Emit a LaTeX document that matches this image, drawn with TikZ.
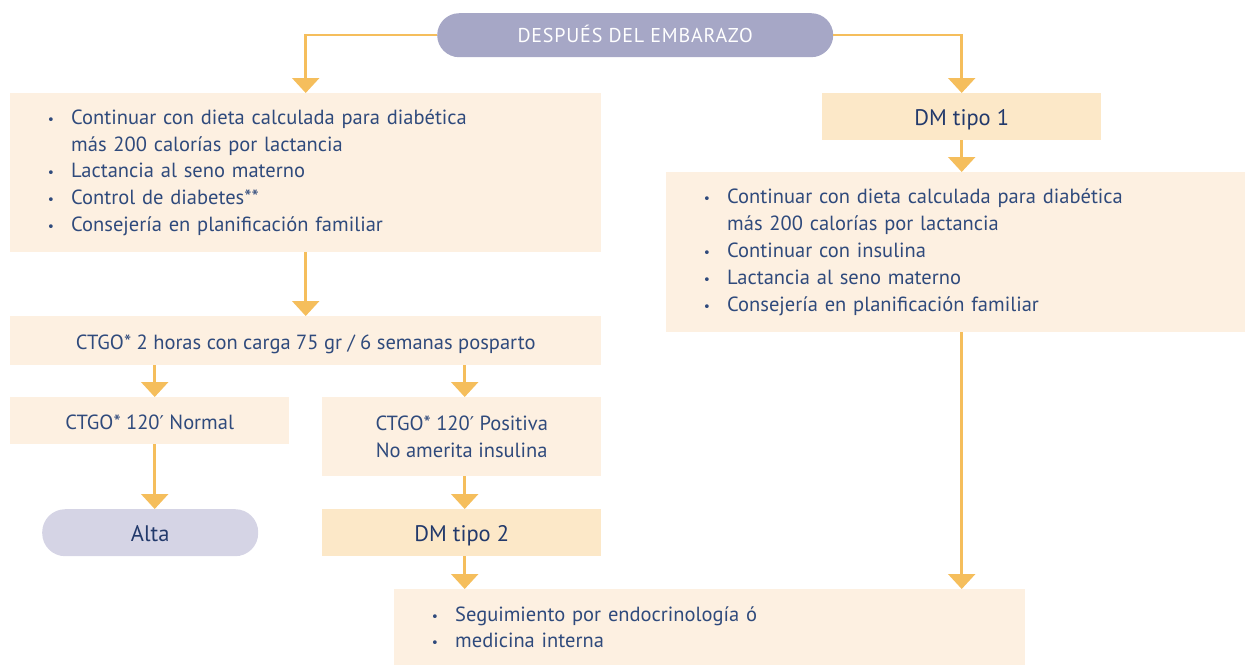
\documentclass[tikz,border=0pt]{standalone}
\usepackage{fontspec}
\setmainfont{PT Sans}
\newfontfamily\symfont{DejaVu Sans}
\usetikzlibrary{arrows.meta}
\definecolor{txt}{HTML}{2F4A7C}
\definecolor{txtdark}{HTML}{22396B}
\definecolor{peach}{HTML}{FDF0E1}
\definecolor{dmfill}{HTML}{FCE8C8}
\definecolor{topfill}{HTML}{A6A7C6}
\definecolor{altafill}{HTML}{D5D4E5}
\definecolor{arrowc}{HTML}{F5BE5C}
\newcommand{\bl}[1]{\makebox[23pt][l]{\hspace*{-1pt}{\symfont\fontsize{13}{13}\selectfont •}}#1}
\newcommand{\fs}{\fontsize{20.5}{26.8}\selectfont}
\newcommand{\fsbig}{\fontsize{22.5}{26.8}\selectfont}
\newcommand{\prm}{{\symfont\fontsize{19}{19}\selectfont ′}}
\begin{document}
\begin{tikzpicture}[x=1pt,y=-1pt,
  box/.style={fill=peach, inner sep=0pt, anchor=north west, font=\fs, text=txt, align=center},
  onebox/.style={box, text height=19pt, text depth=2pt},
  listbox/.style={box, align=left, inner xsep=38pt},
  dmbox/.style={onebox, fill=dmfill, text=txtdark, font=\fsbig},
  arr/.style={draw=arrowc, line width=2.5pt, -{Triangle[width=27pt,length=15pt]}},
]
\useasboundingbox (0,0) rectangle (1245,665);

\node[box, text height=16pt, text depth=2pt, fill=topfill, text=white, rounded corners=22pt, minimum width=396pt, minimum height=44pt, font=\fontsize{20}{22}\selectfont\addfontfeatures{LetterSpace=4}] (top) at (437,13) {DESPUÉS DEL EMBARAZO};

\node[listbox, minimum width=591pt, minimum height=159pt, text width=515pt] (b1) at (10,93)
 {\bl{Continuar con dieta calculada para diabética}\\
  \hspace*{23pt}más 200 calorías por lactancia\\
  \bl{Lactancia al seno materno}\\
  \bl{Control de diabetes**}\\
  \bl{Consejería en planificación familiar}};

\node[onebox, minimum width=591pt, minimum height=49pt] (b2) at (10,316)
 {CTGO* 2 horas con carga 75 gr / 6 semanas posparto};

\node[onebox, minimum width=279pt, minimum height=47pt] (b3) at (10,397) {CTGO* 120\prm{} Normal};

\node[box, minimum width=279pt, minimum height=79pt] (b4) at (322,397)
 {CTGO* 120\prm{} Positiva\\No amerita insulina};

\node[dmbox, fill=altafill, rounded corners=23pt, minimum width=216pt, minimum height=47pt] (alta) at (42,509) {Alta};

\node[dmbox, minimum width=279pt, minimum height=47pt] (dm2) at (322,509) {DM tipo 2};

\node[dmbox, minimum width=279pt, minimum height=47pt] (dm1) at (822,93) {DM tipo 1};

\node[listbox, minimum width=579pt, minimum height=160pt, text width=503pt] (b5) at (666,172)
 {\bl{Continuar con dieta calculada para diabética}\\
  \hspace*{23pt}más 200 calorías por lactancia\\
  \bl{Continuar con insulina}\\
  \bl{Lactancia al seno materno}\\
  \bl{Consejería en planificación familiar}};

\node[listbox, minimum width=631pt, minimum height=76pt, text width=555pt, inner xsep=38pt] (b6) at (394,589)
 {\bl{Seguimiento por endocrinología ó}\\
  \bl{medicina interna}};

\draw[arr] (top.west) -| (b1.north);
\draw[arr] (top.east) -| (dm1.north);
\draw[arr] (b1.south) -- (b2.north);
\draw[arr] ([xshift=5pt]b3.north |- b2.south) -- ([xshift=5pt]b3.north);
\draw[arr] ([xshift=3pt]b4.north |- b2.south) -- ([xshift=3pt]b4.north);
\draw[arr] ([xshift=5pt]b3.south) -- ([xshift=5pt]b3.south |- alta.north);
\draw[arr] ([xshift=3pt]b4.south) -- ([xshift=3pt]dm2.north);
\draw[arr] ([xshift=3pt]dm2.south) -- ([xshift=3pt]dm2.south |- b6.north);
\draw[arr] (dm1.south) -- (dm1.south |- b5.north);
\draw[arr] (b5.south -| dm1.south) -- (b6.north -| dm1.south);
\end{tikzpicture}
\end{document}
